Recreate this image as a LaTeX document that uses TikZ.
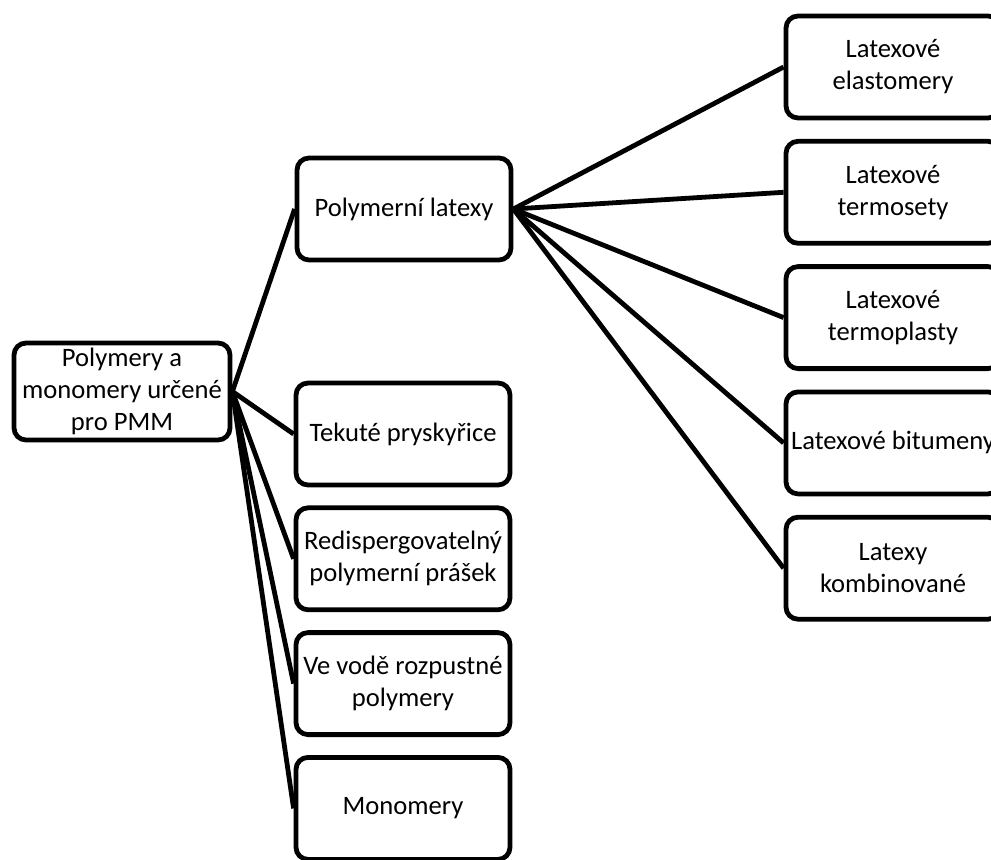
\documentclass[tikz,border=0pt]{standalone}
\usepackage{fontspec}
\setmainfont{Carlito}
\usetikzlibrary{positioning}

\begin{document}
\begin{tikzpicture}[
  x=1pt, y=1pt,
  node distance=9pt and 9pt,
  box/.style={draw, line width=2.4pt, rounded corners=6pt, align=center, font=\fontsize{13.3}{16}\selectfont, minimum width=107pt, minimum height=51pt, inner xsep=0pt, inner ysep=2pt},
  rootbox/.style={box, minimum width=108pt, minimum height=48.5pt},
  link/.style={line width=2.4pt}]
  \clip (0,0) rectangle (495.5,429.5);
  \node[rootbox] (pmm) at (61,233.75) {Polymery a\\ monomery určené\\ pro PMM};
  % middle column
  \node[box] (lat) at (202,325) {Polymerní latexy};
  \node[box] (pry) at (201.5,212.5) {Tekuté pryskyřice};
  \node[box, below=of pry] (pra) {Redispergovatelný\\ polymerní prášek};
  \node[box, below=of pra] (voda) {Ve vodě rozpustné\\ polymery};
  \node[box, below=of voda] (mono) {Monomery};
  % right column
  \node[box] (ela) at (446.5,396) {Latexové\\ elastomery};
  \node[box, below=9.25pt of ela] (tset) {Latexové\\ termosety};
  \node[box, below=9.25pt of tset] (tpla) {Latexové\\ termoplasty};
  \node[box, below=9.25pt of tpla] (bit) {Latexové bitumeny};
  \node[box, below=9.25pt of bit] (komb) {Latexy\\ kombinované};

  \foreach \t in {lat,pry,pra,voda,mono}
    \draw[link] (pmm.east) -- (\t.west);
  \foreach \t in {ela,tset,tpla,bit,komb}
    \draw[link] (lat.east) -- (\t.west);
\end{tikzpicture}
\end{document}
